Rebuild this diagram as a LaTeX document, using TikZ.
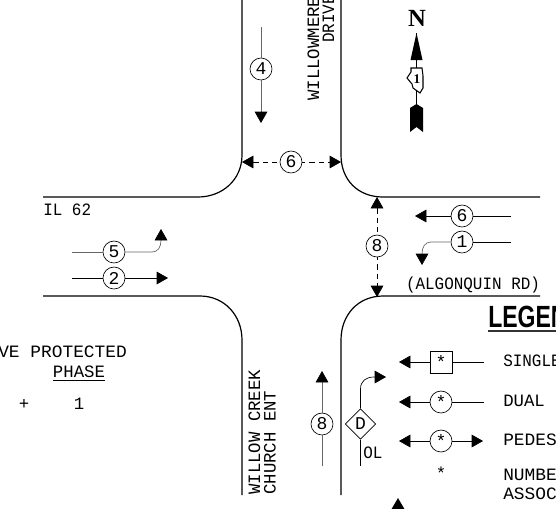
\documentclass[tikz,border=0pt]{standalone}
\usepackage{fontspec}
\setmainfont{Liberation Mono}
\newfontfamily\narrowfont[FakeStretch=.92]{Liberation Mono}
\newfontfamily\widefont[FakeStretch=1.03]{Liberation Mono}
\newfontfamily\legendfont[FakeStretch=.75]{Liberation Sans}
\newfontfamily\northfont{Liberation Serif}
\usetikzlibrary{arrows.meta,shapes.geometric,calc}
\tikzset{
	road/.style = {line width=.9pt},
	mv/.style = {line width=.5pt, gray!80!black, -{Triangle[length=8.5pt,width=9.5pt,black]}},
	mvk/.style = {line width=.5pt, -{Triangle[length=8.5pt,width=9.5pt]}},
	ped/.style = {line width=.5pt, dash pattern=on 4pt off 3pt, {Triangle[length=8.5pt,width=9.5pt]}-{Triangle[length=8.5pt,width=9.5pt]}},
	plain/.style = {line width=.5pt},
	num/.style = {draw, circle, line width=.5pt, fill=white, inner sep=0pt, minimum size=16.5pt, font=\fontsize{13.5}{13.5}\selectfont},
	lbl/.style = {inner sep=0pt, font=\fontsize{13}{13}\selectfont},
	lbln/.style = {inner sep=0pt, font=\narrowfont\fontsize{13}{13}\selectfont},
	lblw/.style = {inner sep=0pt, font=\widefont\fontsize{13}{13}\selectfont}
}
\begin{document}
\begin{tikzpicture}[x=.75pt,y=-.75pt]
		\useasboundingbox (0,0) rectangle (556,508);
		\clip (0,0) rectangle (556,508);
		% road edges
		\draw[road] (242,0) -- (242,155) .. controls (242,180) and (222,197) .. (198,197) -- (43,197);
		\draw[road] (341,0) -- (341,155) .. controls (341,180) and (358,197) .. (383,197) -- (540,197);
		\draw[road] (43,296) -- (200,296) .. controls (224,296) and (242,315) .. (242,340) -- (242,495);
		\draw[road] (540,296) -- (383,296) .. controls (358,296) and (341,315) .. (341,340) -- (341,495);
		% phases
		\node[num] (P4) at (261,69) {4};
		\coordinate (P4a) at (261,27);
		\coordinate (P4b) at (261,123);
		\draw[plain, gray!80!black] (P4a) -- (P4);
		\draw[mv] (P4) -- (P4b);
		\coordinate (W6) at (242,162);
		\coordinate (E6) at (341,162);
		\draw[ped] (W6) -- (E6);
		\node[num] (P6a) at (291,162) {6};
		\coordinate (N8) at (377,197);
		\coordinate (S8) at (377,297);
		\draw[ped] (N8) -- (S8);
		\node[num] (P8a) at (377,246) {8};
		\node[num] (P6b) at (462,216) {6};
		\coordinate (P6e) at (511,216);
		\coordinate (P6w) at (415,216);
		\draw[plain] (P6e) -- (P6b);
		\draw[mvk] (P6b) -- (P6w);
		\node[num] (P1) at (462,242) {1};
		\coordinate (P1e) at (511,242);
		\coordinate (P1t) at (422,265);
		\draw[plain] (P1e) -- (P1);
		\draw[mv] (P1) -- (431,242) .. controls (425,242) and (422,247) .. (P1t);
		\node[num] (P5) at (114,252) {5};
		\coordinate (P5w) at (72,252);
		\coordinate (P5t) at (161,229);
		\draw[plain, gray!80!black] (P5w) -- (P5);
		\draw[mv] (P5) -- (152,252) .. controls (158,252) and (161,247) .. (P5t);
		\node[num] (P2) at (114,278) {2};
		\coordinate (P2w) at (72,278);
		\coordinate (P2t) at (168,278);
		\draw[plain] (P2w) -- (P2);
		\draw[mvk] (P2) -- (P2t);
		\node[num] (P8b) at (322,424) {8};
		\coordinate (P8s) at (322,466);
		\coordinate (P8t) at (322,371);
		\draw[plain, gray!80!black] (P8s) -- (P8b);
		\draw[mv] (P8b) -- (P8t);
		\node[draw, diamond, line width=.5pt, inner sep=0pt, minimum size=23pt, font=\fontsize{13.5}{13.5}\selectfont] (OL) at (360.5,424) {D};
		\coordinate (OLs) at (360.5,466);
		\coordinate (OLt) at (386,377);
		\draw[plain] (OL) -- (OLs);
		\draw[mvk] (OL) -- (360.5,389) .. controls (360.5,381) and (366,377) .. (374,377) -- (OLt);
		\node[lbln, anchor=west] (OLl) at (363,453) {OL};
		% north arrow
		\node[font=\northfont\bfseries\fontsize{18.5}{18.5}\selectfont, inner sep=0pt] (N) at (417,18) {N};
		\coordinate (Ntip) at (416.5,33);
		\coordinate (Nbot) at (416.5,118);
		\draw[line width=.8pt] (Ntip) -- (Nbot);
		\fill (Ntip) -- (422.5,60) -- (410.5,60) -- cycle;
		\fill (416.5,104) -- (423,108) -- (423,132) -- (416.5,127) -- (410,132) -- (410,108) -- cycle;
		\draw[line width=.8pt, fill=white] (411,68) -- (422,68) -- (423,76) -- (423,88) -- (420,93) -- (413,88) -- (412,84) -- (407,78) -- (411,72) -- cycle;
		\node[inner sep=0pt, font=\northfont\bfseries\fontsize{10}{10}\selectfont] (Nil) at (417,79) {1};
		% road names
		\node[lbl, rotate=90, anchor=west] (WM) at (313.5,101) {WILLOWMERE};
		\node[lbln, rotate=90, anchor=west] (DR) at (328.5,43) {DRIVE};
		\node[lbln, anchor=west] (IL) at (43,210) {IL 62};
		\node[lbln] (AL) at (473,285) {(ALGONQUIN RD)};
		\node[lbl, rotate=90, anchor=west] (WC) at (254.5,495) {WILLOW CREEK};
		\node[lbl, rotate=90, anchor=west] (CH) at (270,495) {CHURCH ENT};
		% table at left
		\node[lblw, anchor=west] (TA) at (-2,352) {VE PROTECTED};
		\node[lbl] (TB) at (79,372) {PHASE};
		\coordinate (TBa) at (53,380);
		\coordinate (TBb) at (105,380);
		\draw[plain] (TBa) -- (TBb);
		\node[lbl] (TC) at (24,404) {+};
		\node[lbl] (TD) at (79,404) {1};
		% legend
		\node[anchor=west, inner sep=0pt, font=\legendfont\bfseries\fontsize{23}{23}\selectfont] (LG) at (488,317) {LEGEN};
		\draw[line width=2pt, black!80] (488,331) -- (556,331);
		\node[draw, line width=.5pt, inner sep=0pt, minimum size=16.5pt, font=\fontsize{13.5}{13.5}\selectfont] (L1) at (441,362) {*};
		\coordinate (L1w) at (399,362);
		\coordinate (L1e) at (484,362);
		\draw[mvk] (L1) -- (L1w);
		\draw[plain] (L1) -- (L1e);
		\node[num] (L2) at (441,402) {*};
		\coordinate (L2w) at (399,402);
		\coordinate (L2e) at (484,402);
		\draw[mvk] (L2) -- (L2w);
		\draw[plain] (L2) -- (L2e);
		\node[num] (L3) at (441,441) {*};
		\coordinate (L3w) at (399,441);
		\coordinate (L3e) at (483,441);
		\draw[mvk] (L3) -- (L3w);
		\draw[mvk] (L3) -- (L3e);
		\node[lbl] (L4) at (441,473) {*};
		\node[lbln, anchor=west] (S1) at (503,361) {SINGLE};
		\node[lbl, anchor=west] (S2) at (503,401) {DUAL};
		\node[lblw, anchor=west] (S3) at (503,440) {PEDES};
		\node[lblw, anchor=west] (S4) at (503,475) {NUMBE};
		\node[lblw, anchor=west] (S5) at (503,494) {ASSOC};
		\fill (398,498) -- (405,510) -- (391,510) -- cycle;
	\end{tikzpicture}
\end{document}
